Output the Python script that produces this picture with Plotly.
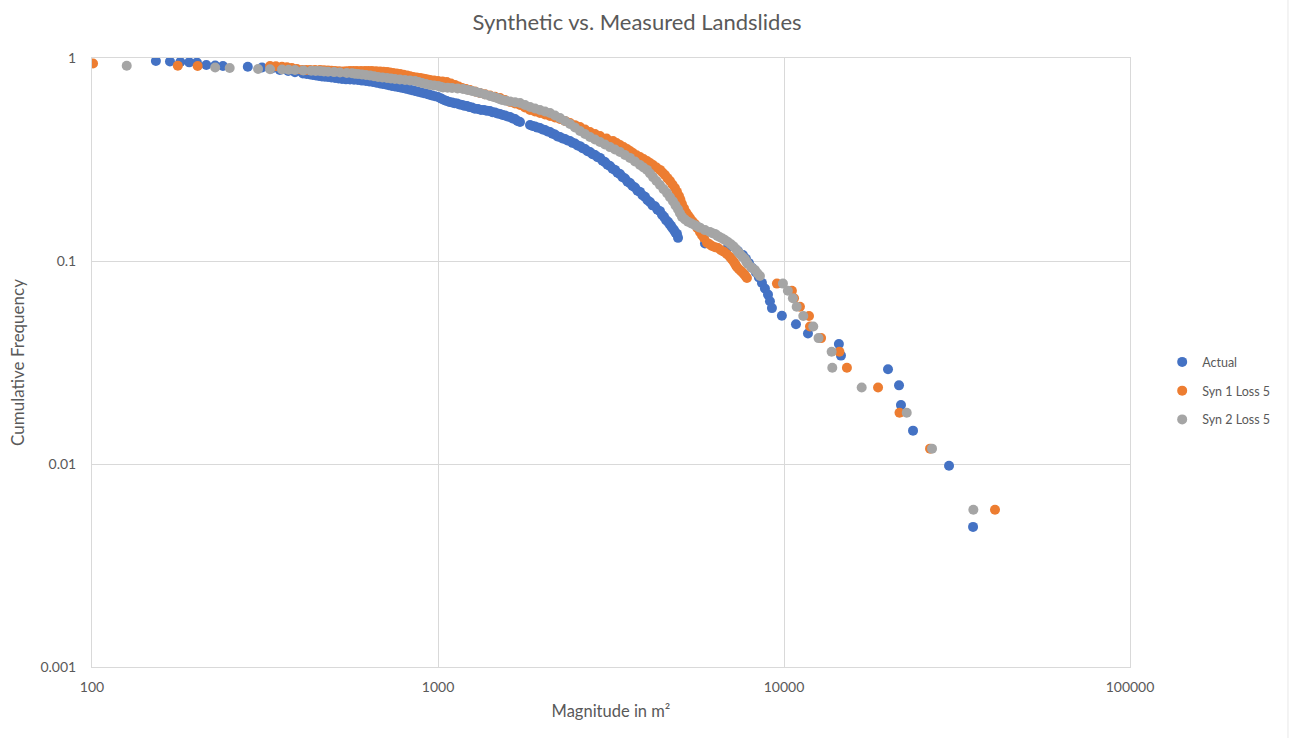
import plotly.graph_objects as go

# ---------------- data ----------------
# Actual: main reading along the curve
actual_x = [153, 168, 180, 191, 201, 214, 227, 239, 282, 310, 331, 349, 369, 386, 407, 427, 444, 462, 481, 504,
            528, 557, 587, 619, 648, 680, 707, 736, 766, 792, 825, 858, 893, 930, 961, 1000, 1027, 1060, 1098, 1135,
            1174, 1213, 1254, 1305, 1358, 1413, 1461, 1511, 1562, 1615, 1669, 1726, 1845, 1907, 1971, 2038, 2107,
            2178, 2252, 2328, 2407, 2488, 2573, 2660, 2750, 2843, 2939, 3038, 3141, 3247, 3357, 3471, 3588, 3710,
            3835, 3965, 4099, 4237, 4381, 4500, 4620, 4714, 4810, 4905, 4940,
            5910, 6890, 7360, 7610, 7763, 7920, 8080, 8297, 8464, 8635, 8809, 8990, 9107, 9229, 9860, 10830, 11730,
            14410, 14610, 19980, 21500, 21780, 23600, 29990, 35190]
actual_y = [0.967, 0.961, 0.956, 0.952, 0.950, 0.924, 0.918, 0.913, 0.906, 0.898, 0.888, 0.873, 0.863, 0.850, 0.839,
            0.829, 0.820, 0.811, 0.806, 0.797, 0.788, 0.784, 0.779, 0.770, 0.762, 0.749, 0.740, 0.728, 0.720, 0.711,
            0.700, 0.688, 0.676, 0.665, 0.654, 0.643, 0.628, 0.614, 0.604, 0.597, 0.587, 0.580, 0.570, 0.561, 0.554,
            0.548, 0.539, 0.530, 0.521, 0.512, 0.501, 0.484, 0.468, 0.460, 0.452, 0.442, 0.432, 0.420, 0.408, 0.399,
            0.390, 0.379, 0.368, 0.356, 0.344, 0.333, 0.322, 0.307, 0.294, 0.281, 0.268, 0.255, 0.242, 0.230, 0.219,
            0.207, 0.195, 0.186, 0.176, 0.165, 0.156, 0.149, 0.142, 0.136, 0.130,
            0.122, 0.117, 0.112, 0.107, 0.1025, 0.0976, 0.0927, 0.0878, 0.083, 0.078, 0.0732, 0.0683, 0.0634, 0.0586,
            0.0537, 0.0488, 0.0439, 0.0390, 0.0342, 0.0293, 0.0244, 0.0195, 0.0146, 0.0098, 0.0049]
# Actual: further points read inside the dense band
actual_x_band = [417, 435, 453, 471, 492, 516, 542, 572, 603, 633, 664, 693, 721, 751, 779, 808, 841, 875, 911, 945,
                 980, 1017, 1044, 1078, 1116, 1154, 1194, 1233, 1278, 1331, 1385, 1436, 1485, 1536, 1588, 1642, 1697,
                 1876, 1939, 2004, 2072, 2142, 2215, 2290, 2367, 2447, 2530, 2616, 2705, 2796, 2891, 2988, 3089,
                 3194, 3301, 3413, 3529, 3648, 3772, 3899, 4032, 4168, 4308, 4440, 4560, 4667, 4762, 4857]
actual_y_band = [0.834, 0.825, 0.815, 0.808, 0.801, 0.792, 0.785, 0.781, 0.774, 0.766, 0.755, 0.744, 0.734, 0.724,
                 0.715, 0.705, 0.694, 0.682, 0.670, 0.659, 0.648, 0.633, 0.619, 0.607, 0.598, 0.590, 0.581, 0.573,
                 0.563, 0.555, 0.549, 0.541, 0.533, 0.524, 0.515, 0.504, 0.490, 0.462, 0.454, 0.445, 0.435, 0.424,
                 0.411, 0.401, 0.392, 0.382, 0.371, 0.359, 0.347, 0.336, 0.325, 0.312, 0.298, 0.285, 0.272, 0.259,
                 0.246, 0.234, 0.222, 0.211, 0.199, 0.188, 0.179, 0.169, 0.159, 0.152, 0.145, 0.138]

syn1_x = [100.7, 177, 202, 327, 354, 378, 405, 427, 456, 481, 504, 532, 557, 583, 615, 644, 680, 712, 741, 777,
          814, 847, 887, 917, 948, 1000, 1060, 1120, 1174, 1237, 1322, 1413, 1511, 1615, 1726, 1845, 1971, 2107,
          2252, 2407, 2573, 2750, 2939, 3204, 3357, 3518, 3660, 3835, 4018, 4182, 4381, 4529, 4682, 4840, 4971,
          5071, 5208, 5348, 5529, 5717, 5871, 5989, 6192, 6444, 6705, 6980, 7167, 7312, 7510, 7661, 7815,
          9541, 10540, 10690, 11120, 11810, 11890, 12800, 14460, 15200, 18700, 21570, 26430, 40720]
syn1_y = [0.940, 0.916, 0.913, 0.913, 0.906, 0.893, 0.873, 0.873, 0.873, 0.868, 0.863, 0.858, 0.863, 0.863, 0.863,
          0.863, 0.858, 0.853, 0.844, 0.834, 0.820, 0.806, 0.797, 0.788, 0.779, 0.770, 0.762, 0.736, 0.711, 0.696,
          0.672, 0.654, 0.635, 0.607, 0.587, 0.554, 0.536, 0.518, 0.501, 0.478, 0.457, 0.432, 0.413, 0.390, 0.373,
          0.356, 0.340, 0.325, 0.311, 0.297, 0.281, 0.265, 0.248, 0.229, 0.209, 0.191, 0.174, 0.163, 0.152, 0.139,
          0.130, 0.123, 0.1185, 0.1159, 0.111, 0.1046, 0.0989, 0.0934, 0.0893, 0.0863, 0.0824,
          0.0774, 0.0714, 0.0655, 0.0595, 0.0536, 0.0476, 0.0417, 0.0357, 0.0298, 0.0238, 0.0179, 0.0119, 0.00595]
syn1_x_band = [340, 366, 391, 416, 441, 468, 492, 518, 544, 570, 599, 629, 662, 696, 726, 759, 795, 830, 867, 902,
               932, 974, 1030, 1090, 1147, 1205, 1279, 1367, 1461, 1562, 1669, 1784, 1907, 2038, 2178, 2328, 2488,
               2660, 2843, 3070, 3280, 3437, 3588, 3747, 3925, 4099, 4280, 4455, 4605, 4760, 4905, 5020, 5140,
               5278, 5438, 5622, 5794, 6090, 6318, 6574, 6842, 7073, 7240, 7410, 7585, 7738]
syn1_y_band = [0.910, 0.900, 0.883, 0.873, 0.873, 0.870, 0.866, 0.861, 0.861, 0.863, 0.863, 0.863, 0.861, 0.856,
               0.849, 0.839, 0.827, 0.813, 0.802, 0.793, 0.784, 0.775, 0.766, 0.749, 0.723, 0.703, 0.684, 0.663,
               0.644, 0.621, 0.597, 0.570, 0.545, 0.527, 0.509, 0.490, 0.467, 0.444, 0.422, 0.401, 0.381, 0.364,
               0.348, 0.332, 0.318, 0.304, 0.289, 0.273, 0.256, 0.238, 0.219, 0.200, 0.182, 0.168, 0.157, 0.145,
               0.134, 0.121, 0.117, 0.113, 0.108, 0.1017, 0.096, 0.091, 0.0878, 0.0843]

syn2_x = [126, 227, 250, 302, 354, 386, 430, 456, 481, 521, 545, 564, 587, 603, 636, 671, 712, 751, 803, 858,
          899, 948, 1000, 1034, 1098, 1181, 1254, 1322, 1413, 1480, 1531, 1615, 1726, 1845, 1971, 2107, 2252, 2407,
          2573, 2750, 2939, 3141, 3357, 3588, 3835, 4018, 4182, 4381, 4590, 4776, 4938, 5071, 5277, 5529, 5717,
          6110, 6316, 6530, 6750, 7027, 7263, 7460, 7712, 7868, 8242, 8521,
          9930, 10260, 10610, 10880, 11370, 12150, 12580, 13730, 13790, 16770, 22630, 26780, 35260]
syn2_y = [0.916, 0.898, 0.893, 0.883, 0.878, 0.873, 0.866, 0.863, 0.856, 0.848, 0.844, 0.841, 0.834, 0.829, 0.820,
          0.806, 0.797, 0.788, 0.779, 0.770, 0.753, 0.736, 0.728, 0.716, 0.711, 0.704, 0.688, 0.672, 0.650, 0.635,
          0.621, 0.610, 0.600, 0.574, 0.554, 0.536, 0.506, 0.473, 0.437, 0.408, 0.386, 0.364, 0.344, 0.322, 0.297,
          0.281, 0.259, 0.237, 0.216, 0.197, 0.180, 0.165, 0.156, 0.150, 0.146, 0.139, 0.136, 0.131, 0.127, 0.121,
          0.1146, 0.1083, 0.1023, 0.0966, 0.0903, 0.0843,
          0.0774, 0.0714, 0.0655, 0.0595, 0.0536, 0.0476, 0.0417, 0.0357, 0.0298, 0.0238, 0.0179, 0.0119, 0.00595]
syn2_x_band = [327, 370, 408, 443, 468, 501, 575, 619, 653, 691, 731, 776, 830, 878, 923, 974, 1017, 1066, 1139,
               1217, 1288, 1367, 1447, 1505, 1572, 1669, 1784, 1907, 2038, 2178, 2328, 2488, 2660, 2843, 3038, 3247,
               3471, 3710, 3925, 4099, 4280, 4484, 4682, 4857, 5004, 5173, 5400, 5622, 5910, 6210, 6420, 6640,
               6887, 7145, 7360, 7585, 7790, 8050, 8380]
syn2_y_band = [0.880, 0.875, 0.869, 0.864, 0.859, 0.852, 0.837, 0.824, 0.813, 0.802, 0.792, 0.783, 0.775, 0.761,
               0.745, 0.732, 0.722, 0.713, 0.708, 0.696, 0.680, 0.661, 0.642, 0.628, 0.615, 0.605, 0.587, 0.564,
               0.545, 0.521, 0.489, 0.455, 0.422, 0.397, 0.375, 0.354, 0.333, 0.309, 0.289, 0.270, 0.248, 0.226,
               0.206, 0.188, 0.172, 0.160, 0.153, 0.148, 0.142, 0.137, 0.133, 0.129, 0.124, 0.118, 0.111, 0.105,
               0.099, 0.093, 0.087]

series_names = ["Actual", "Syn 1 Loss 5", "Syn 2 Loss 5"]
series_colors = ["#4472C4", "#ED7D31", "#A5A5A5"]

x_ticks = [100, 1000, 10000, 100000]
x_tick_labels = ["100", "1000", "10000", "100000"]
y_ticks = [0.001, 0.01, 0.1, 1]
y_tick_labels = ["0.001", "0.01", "0.1", "1"]

# ---------------- figure ----------------
FONT = "Lato"
TXT = "#595959"
GRID = "#D9D9D9"

series_x = [actual_x + actual_x_band, syn1_x + syn1_x_band, syn2_x + syn2_x_band]
series_y = [actual_y + actual_y_band, syn1_y + syn1_y_band, syn2_y + syn2_y_band]

fig = go.Figure()
for name, color, xs, ys in zip(series_names, series_colors, series_x, series_y):
    fig.add_trace(go.Scatter(
        x=xs, y=ys, mode="markers", name=name, legendgroup=name,
        marker=dict(color=color, size=10, line=dict(width=0)),
    ))

fig.update_layout(
    width=1293, height=738,
    paper_bgcolor="white", plot_bgcolor="white",
    margin=dict(l=92, r=163, t=58, b=71),
    font=dict(family=FONT, color=TXT, size=13),
    title=dict(text="Synthetic vs. Measured Landslides", x=0.4927, xanchor="center",
               y=0.97, yanchor="middle", font=dict(family=FONT, size=22, color=TXT)),
    legend=dict(x=1.031, xanchor="left", y=0.525, yanchor="top",
                font=dict(family=FONT, size=12.5, color=TXT),
                traceorder="grouped", tracegroupgap=9.5, itemsizing="trace",
                bgcolor="rgba(0,0,0,0)"),
    showlegend=True,
)
fig.update_xaxes(
    type="log", range=[2, 5], tickvals=x_ticks, ticktext=x_tick_labels,
    showgrid=True, gridcolor=GRID, gridwidth=1,
    showline=True, linecolor=GRID, linewidth=1, mirror=True,
    ticks="", ticklabelstandoff=7, zeroline=False,
    tickfont=dict(family=FONT, size=14, color=TXT),
    title=dict(text="Magnitude in m²", font=dict(family=FONT, size=16.5, color=TXT), standoff=11),
)
fig.update_yaxes(
    type="log", range=[-3, 0], tickvals=y_ticks, ticktext=y_tick_labels,
    showgrid=True, gridcolor=GRID, gridwidth=1,
    showline=True, linecolor=GRID, linewidth=1, mirror=True,
    ticks="", ticklabelstandoff=12, zeroline=False,
    tickfont=dict(family=FONT, size=14, color=TXT),
    title=dict(text="Cumulative Frequency", font=dict(family=FONT, size=17, color=TXT), standoff=11),
)
# faint chart-area border at the right edge of the picture
fig.add_shape(type="line", xref="paper", yref="paper", x0=1.1522, x1=1.1522, y0=-0.2, y1=1.2,
              line=dict(color="#E8E8E8", width=1))

fig.write_html("out.html", config={"displayModeBar": False},
               post_script="document.body.style.margin='0px';")
